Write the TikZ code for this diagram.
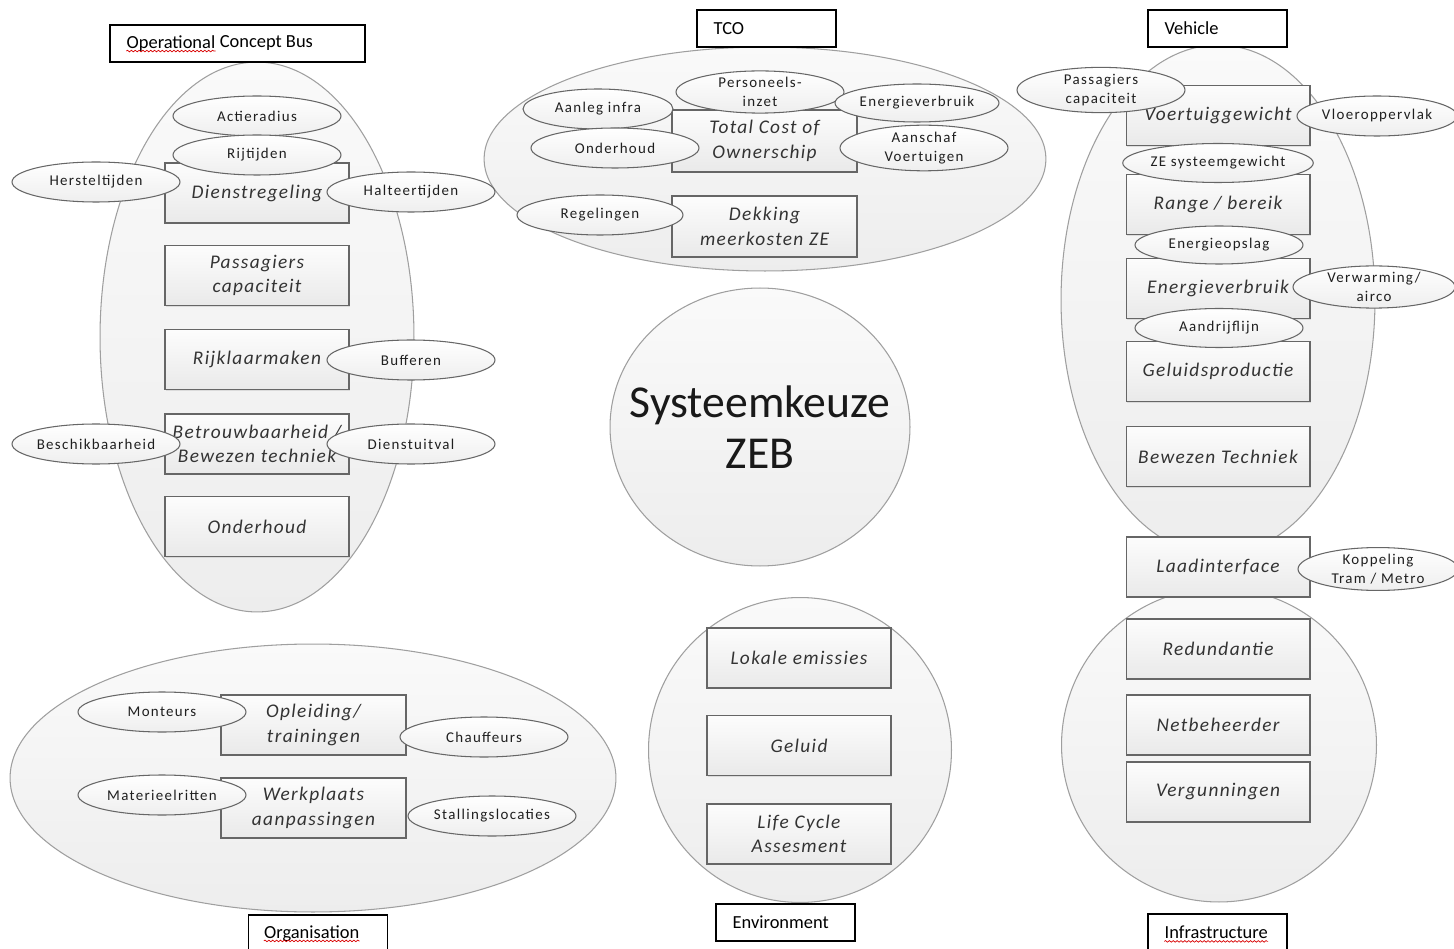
\documentclass[tikz,border=0pt]{standalone}
\usepackage{fontspec}
\setmainfont{Carlito}
\usetikzlibrary{positioning,shapes.geometric,shadows,decorations.pathmorphing}

\newcommand{\blokfont}{\fontsize{11}{14}\selectfont\itshape\addfontfeature{LetterSpace=7}}
\newcommand{\bolfont}{\fontsize{8.5}{11}\selectfont\addfontfeature{LetterSpace=9}}
\newcommand{\kopfont}{\fontsize{10.5}{12}\selectfont}

\tikzset{
	huelle/.style={ellipse, draw=gray!75, line width=0.6pt, top color=gray!4,
		bottom color=gray!14, inner sep=0pt},
	blok/.style={rectangle, draw=gray!80!black, line width=0.6pt, top color=gray!2,
		bottom color=gray!17, minimum width=3.68cm, minimum height=1.2cm,
		inner sep=0pt, align=center, text=black!80, font=\blokfont,
		drop shadow={opacity=0.2, shadow xshift=0.7pt, shadow yshift=-0.7pt}},
	bol/.style={ellipse, draw=gray!80!black, line width=0.6pt, top color=white,
		bottom color=gray!13, minimum width=3.36cm, minimum height=0.8cm,
		inner sep=0pt, align=center, text=black!88, font=\bolfont},
	kop/.style={rectangle, draw=black, line width=0.8pt, fill=white,
		minimum width=2.78cm, minimum height=0.74cm},
	koptekst/.style={anchor=west, inner sep=0pt, font=\kopfont},
	rood/.style={draw=red!85!black, line width=0.4pt, decorate,
		decoration={snake, amplitude=0.45pt, segment length=2.2pt}}
}

\begin{document}
\begin{tikzpicture}[x=0.02cm, y=-0.02cm]
	\useasboundingbox (0,0) rectangle (1454,949);

	% Huellen
	\node[huelle, minimum width=6.28cm, minimum height=11cm] (ocb) at (257,337) {};
	\node[huelle, minimum width=11.24cm, minimum height=4.48cm] (tco) at (765,159) {};
	\node[huelle, minimum width=6.28cm, minimum height=10.2cm] (voertuig) at (1218,300) {};
	\node[huelle, minimum width=6.3cm, minimum height=6.28cm] (infra) at (1219,745) {};
	\node[huelle, minimum width=6.06cm, minimum height=6.1cm] (milieu) at (800,750) {};
	\node[huelle, minimum width=12.12cm, minimum height=5.36cm] (organisatie) at (313,778) {};
	\node[huelle, minimum width=6cm, minimum height=5.56cm] (kern) at (760,427) {};
	\node[align=center, inner sep=0pt, font=\fontsize{26}{29}\selectfont, text=black!90]
		(kerntekst) at (kern.center) {Systeemkeuze\\ZEB};

	% Bloecke Operational Concept Bus
	\foreach \naam/\y/\tekst in {dienst/193/Dienstregeling,
		passagiers/275.5/{Passagiers\\capaciteit}, rijklaar/359.5/Rijklaarmaken,
		betrouw/444/{Betrouwbaarheid /\\Bewezen techniek}, onderhoud/526.5/Onderhoud}
		\node[blok] (\naam) at (257,\y) {\tekst};

	% Bloecke TCO
	\node[blok, minimum width=3.7cm, minimum height=1.24cm] (tcoblok) at (764.5,141)
		{Total Cost of\\Ownerschip};
	\node[blok, minimum width=3.7cm, minimum height=1.22cm] (dekking) at (764.5,226.5)
		{Dekking\\meerkosten ZE};

	% Bloecke Vehicle
	\foreach \naam/\y/\tekst in {gewicht/115.5/Voertuiggewicht,
		bereik/204.5/{Range / bereik}, energie/288.5/Energieverbruik,
		geluidsprod/371.5/Geluidsproductie, bewezen/456.5/Bewezen Techniek}
		\node[blok] (\naam) at (1218,\y) {\tekst};

	% Bloecke Infrastructure
	\foreach \naam/\y/\tekst in {redundantie/649/Redundantie,
		netbeheer/725/Netbeheerder, vergunning/792/Vergunningen}
		\node[blok] (\naam) at (1218,\y) {\tekst};
	\node[blok] (laad) at (1218,567) {Laadinterface};

	% Bloecke Environment
	\foreach \naam/\y/\tekst in {lokaal/658/Lokale emissies,
		geluid/745.5/Geluid, lca/834/{Life Cycle\\Assesment}}
		\node[blok] (\naam) at (799,\y) {\tekst};

	% Bloecke Organisation
	\node[blok, minimum width=3.7cm] (opleiding) at (313.5,725) {Opleiding/\\trainingen};
	\node[blok, minimum width=3.7cm] (werkplaats) at (313.5,808) {Werkplaats\\aanpassingen};

	% Ellipsen Operational Concept Bus
	\node[bol] (actieradius) at (257,116) {Actieradius};
	\node[bol] (rijtijden) at (257,155) {Rijtijden};
	\node[bol] (hersteltijden) at (96,182) {Hersteltijden};
	\node[bol] (halteertijden) at (411,192) {Halteertijden};
	\node[bol] (bufferen) at (411,360) {Bufferen};
	\node[bol] (beschikbaar) at (96,444) {Beschikbaarheid};
	\node[bol] (dienstuitval) at (411,444) {Dienstuitval};

	% Ellipsen TCO
	\node[bol, minimum width=3.0cm] (aanleg) at (598,109) {Aanleg infra};
	\node[bol, minimum height=0.78cm] (personeel) at (760,92) {Personeels-\\inzet};
	\node[bol, minimum width=3.28cm, minimum height=0.76cm] (tcoenergie) at (917,103)
		{Energieverbruik};
	\node[bol] (tcoonderhoud) at (615,148) {Onderhoud};
	\node[bol] (aanschaf) at (924,148) {Aanschaf\\Voertuigen};
	\node[bol, minimum width=3.32cm] (regelingen) at (600,215) {Regelingen};

	% Ellipsen Vehicle
	\node[bol] (vpassagiers) at (1101,90) {Passagiers\\capaciteit};
	\node[bol, minimum width=3.2cm] (vloer) at (1377,116) {Vloeroppervlak};
	\node[bol, minimum width=3.78cm, minimum height=0.78cm] (zegewicht) at (1218,163)
		{ZE systeemgewicht};
	\node[bol, minimum height=0.76cm] (opslag) at (1219,245) {Energieopslag};
	\node[bol, minimum width=3.24cm] (verwarming) at (1374,287) {Verwarming/\\airco};
	\node[bol, minimum height=0.78cm] (aandrijf) at (1219,328) {Aandrijflijn};
	\node[bol, minimum width=3.2cm, minimum height=0.84cm] (koppeling) at (1378,569)
		{Koppeling\\Tram / Metro};

	% Ellipsen Organisation
	\node[bol] (monteurs) at (162,712) {Monteurs};
	\node[bol] (chauffeurs) at (484,737) {Chauffeurs};
	\node[bol] (materieel) at (162,795) {Materieelritten};
	\node[bol] (stalling) at (492,816) {Stallingslocaties};

	% Koepfe
	\node[kop, minimum width=5.1cm] (ocbkop) at (237.5,43.5) {};
	\node[koptekst, right=0.34cm of ocbkop.west] (ocbwoord) {Operational};
	\node[koptekst, right=0.22em of ocbwoord] (ocbrest) {Concept Bus};
	\draw[rood] ([yshift=-1.5pt]ocbwoord.base west) -- ([yshift=-1.5pt]ocbwoord.base east);

	\node[kop] (tcokop) at (766.5,28.5) {};
	\node[koptekst, right=0.34cm of tcokop.west] (tcowoord) {TCO};

	\node[kop] (voertuigkop) at (1217.5,28.5) {};
	\node[koptekst, right=0.34cm of voertuigkop.west] (voertuigwoord) {Vehicle};

	\node[kop] (orgkop) at (318,933.5) {};
	\node[koptekst, right=0.32cm of orgkop.west] (orgwoord) {Organisation};
	\draw[rood] ([yshift=-1.5pt]orgwoord.base west) -- ([yshift=-1.5pt]orgwoord.base east);

	\node[kop] (milieukop) at (785.5,922.5) {};
	\node[koptekst, right=0.34cm of milieukop.west] (milieuwoord) {Environment};

	\node[kop] (infrakop) at (1217.5,932.5) {};
	\node[koptekst, right=0.34cm of infrakop.west] (infrawoord) {Infrastructure};
	\draw[rood] ([yshift=-1.5pt]infrawoord.base west) -- ([yshift=-1.5pt]infrawoord.base east);
\end{tikzpicture}
\end{document}
